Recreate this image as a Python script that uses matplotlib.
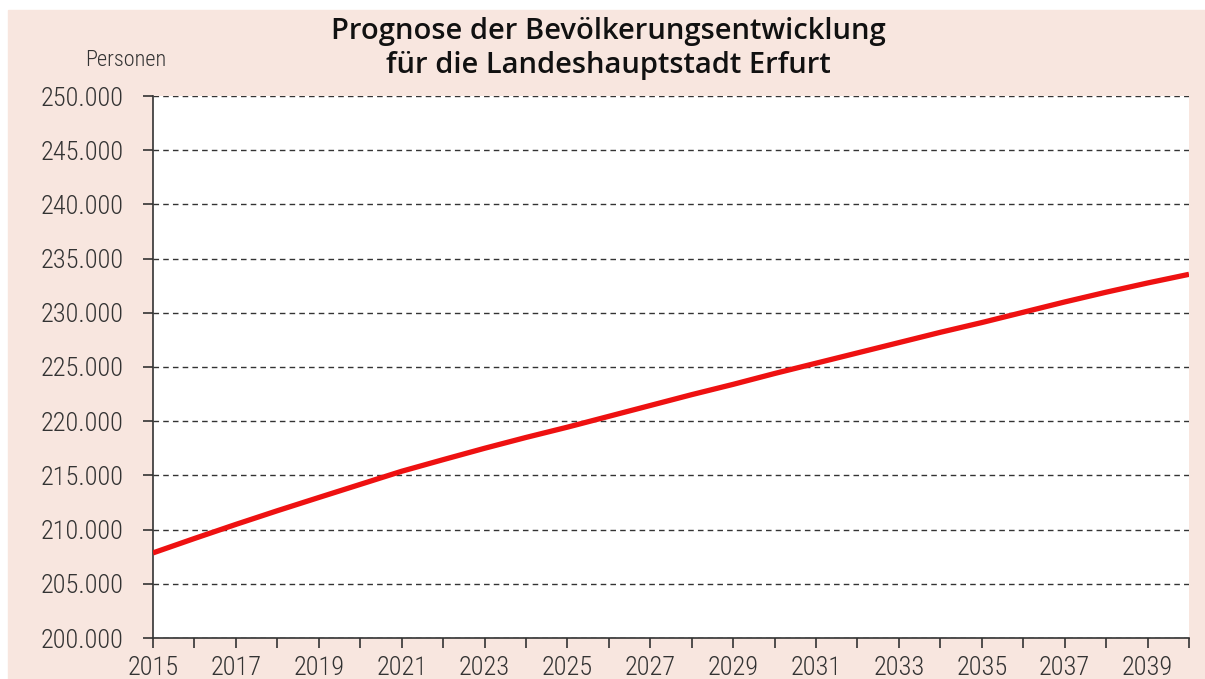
import matplotlib
matplotlib.use("Agg")
import matplotlib.pyplot as plt
from matplotlib.ticker import FuncFormatter, MultipleLocator

PEACH = "#f8e6df"
RED = "#ee1111"
DARK = "#333333"

# Bevölkerungsprognose Erfurt, Personen je Jahr
years = list(range(2015, 2041))
population = [
    207850, 209180, 210480, 211740, 212960, 214170, 215380, 216450,
    217500, 218500, 219450, 220450, 221450, 222450, 223400, 224400,
    225350, 226300, 227250, 228200, 229100, 230050, 231000, 231900,
    232750, 233550,
]

title_lines = ["Prognose der Bevölkerungsentwicklung",
               "für die Landeshauptstadt Erfurt"]

plt.rcParams["font.family"] = ["Roboto Condensed", "Liberation Sans Narrow",
                               "Lato", "DejaVu Sans"]
plt.rcParams["font.weight"] = "light"

fig = plt.figure(figsize=(12.05, 6.79), dpi=100)
fig.patch.set_facecolor("white")
fig.add_artist(plt.Rectangle((8 / 1205, 0), 1, 1 - 10 / 679,
                             transform=fig.transFigure, color=PEACH, zorder=-10))

ax = fig.add_axes([153 / 1205, 1 - 638 / 679, 1036 / 1205, 542 / 679])
ax.set_facecolor("white")
ax.plot(years, population, color=RED, lw=3.8, solid_capstyle="butt", zorder=3)

ax.set_xlim(2015, 2040)
ax.set_ylim(200000, 250000)
ax.yaxis.set_major_locator(MultipleLocator(5000))
ax.xaxis.set_major_locator(MultipleLocator(2, offset=1))
ax.set_xticks(list(range(2015, 2041)), minor=True)
ax.xaxis.set_minor_formatter(FuncFormatter(lambda v, p: ""))
ax.yaxis.set_major_formatter(FuncFormatter(lambda v, p: f"{int(v):,}".replace(",", ".")))

ax.grid(axis="y", color=DARK, ls=(0, (4, 3)), lw=1.0)
for s in ("top", "right"):
    ax.spines[s].set_visible(False)
for s in ("left", "bottom"):
    ax.spines[s].set_color(DARK)
    ax.spines[s].set_linewidth(1.2)

ax.tick_params(axis="y", length=7, width=1.2, color=DARK, pad=14,
               labelsize=19, labelcolor=DARK)
ax.tick_params(axis="x", which="both", length=7, width=1.2, color=DARK, pad=6,
               labelsize=19, labelcolor=DARK)

fig.text(126 / 1205, 1 - 60 / 679, "Personen", ha="center", va="center",
         fontsize=16, color=DARK)
for i, line in enumerate(title_lines):
    fig.text(608 / 1205, 1 - (31 + 35 * i) / 679, line, ha="center", va="center",
             fontsize=21, fontweight="semibold",
             family=["Open Sans", "DejaVu Sans"], color="#111111")

fig.savefig("out.png", dpi=100, facecolor=fig.get_facecolor())
